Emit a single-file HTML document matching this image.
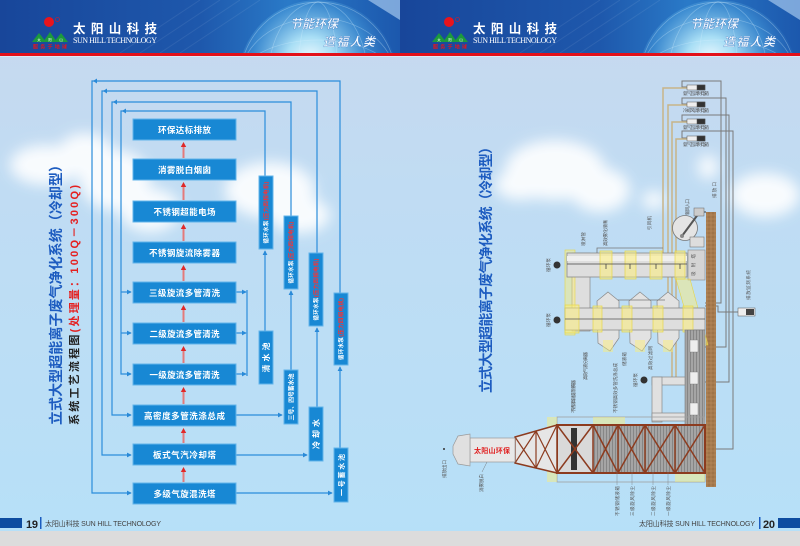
<!DOCTYPE html>
<html><head><meta charset="utf-8"><style>
html,body{margin:0;padding:0;width:800px;height:546px;overflow:hidden;background:#bfe0f5}
svg{display:block}
text{font-family:"Liberation Sans","Noto Sans CJK SC",sans-serif}
.lb{font-size:4.6px;fill:#555}
</style></head><body>
<svg width="800" height="546" viewBox="0 0 800 546" xmlns="http://www.w3.org/2000/svg">
<defs>
<linearGradient id="sky" x1="0" y1="0" x2="0" y2="1">
<stop offset="0" stop-color="#c8d8ee"/><stop offset="0.35" stop-color="#c0dcf3"/><stop offset="1" stop-color="#b6e0f8"/>
</linearGradient>
<linearGradient id="hd" x1="0" y1="0" x2="1" y2="0">
<stop offset="0" stop-color="#18469a"/><stop offset="0.5" stop-color="#1e58ac"/><stop offset="0.72" stop-color="#2a7ac8"/><stop offset="1" stop-color="#1c58ad"/>
</linearGradient>
<radialGradient id="gl" cx="0.45" cy="0.38" r="0.6">
<stop offset="0" stop-color="#f2fbff"/><stop offset="0.25" stop-color="#a8def5"/><stop offset="0.6" stop-color="#3f8fd3" stop-opacity="0.8"/><stop offset="1" stop-color="#1e5aae" stop-opacity="0"/>
</radialGradient>
<filter id="bl" x="-50%" y="-50%" width="200%" height="200%"><feGaussianBlur stdDeviation="7"/></filter>
<filter id="bl2" x="-50%" y="-50%" width="200%" height="200%"><feGaussianBlur stdDeviation="3"/></filter>
<marker id="ar" viewBox="0 0 6 6" refX="5" refY="3" markerWidth="4" markerHeight="4" orient="auto"><path d="M0,0 L6,3 L0,6z" fill="#2a8ad8"/></marker>
<pattern id="hatch" width="3" height="4" patternUnits="userSpaceOnUse"><rect width="3" height="4" fill="#a5a5a5"/><rect width="1" height="4" fill="#868686"/></pattern>
<pattern id="soil" width="4" height="4" patternUnits="userSpaceOnUse"><rect width="4" height="4" fill="#a87b4e"/><circle cx="1" cy="1" r="0.6" fill="#86603a"/><circle cx="3" cy="3" r="0.5" fill="#c49a6c"/></pattern>
<clipPath id="hc"><rect x="0" y="0" width="400" height="53"/></clipPath>
</defs>

<!-- background -->
<rect x="0" y="0" width="800" height="546" fill="url(#sky)"/>
<rect x="0" y="531" width="800" height="15" fill="#dcdcdc"/>

<!-- clouds -->
<g fill="#ffffff" filter="url(#bl)" opacity="0.9">
<ellipse cx="45" cy="165" rx="35" ry="20"/>
<ellipse cx="85" cy="155" rx="28" ry="22"/>
<ellipse cx="115" cy="180" rx="35" ry="30"/>
<ellipse cx="150" cy="210" rx="30" ry="22"/>
<ellipse cx="270" cy="190" rx="45" ry="28"/>
<ellipse cx="300" cy="215" rx="30" ry="18"/>
<ellipse cx="555" cy="170" rx="50" ry="30"/>
<ellipse cx="600" cy="190" rx="30" ry="22"/>
<ellipse cx="520" cy="185" rx="25" ry="15"/>
<ellipse cx="765" cy="195" rx="35" ry="22"/>
<ellipse cx="708" cy="167" rx="10" ry="12"/>
<ellipse cx="654" cy="200" rx="12" ry="9"/>
</g>

<!-- HEADER LEFT -->
<g>
<rect x="0" y="0" width="400" height="53" fill="url(#hd)"/>
<g clip-path="url(#hc)">
<g stroke="#ffffff" stroke-opacity="0.08" stroke-width="1">
<line x1="120" y1="53" x2="200" y2="0"/><line x1="140" y1="53" x2="220" y2="0"/><line x1="160" y1="53" x2="240" y2="0"/><line x1="180" y1="53" x2="260" y2="0"/>
</g>
<circle cx="318" cy="80" r="80" fill="url(#gl)"/>
<g fill="none" stroke="#d8f0ff" stroke-opacity="0.35" stroke-width="0.7">
<ellipse cx="318" cy="80" rx="78" ry="78"/><ellipse cx="318" cy="80" rx="50" ry="78"/><ellipse cx="318" cy="80" rx="20" ry="78"/><ellipse cx="318" cy="80" rx="78" ry="40"/><ellipse cx="318" cy="80" rx="78" ry="62"/>
</g>
<path d="M368,0 L400,0 L400,20 Q384,10 368,0z" fill="#a4c8ee" opacity="0.7"/>
</g>
<circle cx="49" cy="22" r="5" fill="#e8141c"/>
<circle cx="57.5" cy="19.5" r="2" fill="none" stroke="#e8141c" stroke-width="0.6"/>
<polygon points="32,42 39,33 46,42" fill="#1c9a3c"/><polygon points="43,42 50,32 57,42" fill="#1c9a3c"/><polygon points="54,42 61,33 68,42" fill="#1c9a3c"/>
<text x="39" y="41" font-size="3.5" fill="#fff" text-anchor="middle">太</text><text x="50" y="41" font-size="3.5" fill="#fff" text-anchor="middle">阳</text><text x="61" y="41" font-size="3.5" fill="#fff" text-anchor="middle">山</text>
<text x="50" y="48.5" font-size="5" fill="#e8141c" font-weight="bold" text-anchor="middle" textLength="34">服务于地球</text>
<text x="73" y="33" font-size="12.5" font-weight="bold" fill="#fff" textLength="84">太阳山科技</text>
<text x="73" y="43" font-size="8" fill="#fff" style="font-family:'Liberation Serif',serif" textLength="84">SUN HILL TECHNOLOGY</text>
<text x="290" y="28" font-size="12" font-style="italic" font-weight="bold" fill="#f4faff" stroke="#2a66b8" stroke-width="0.25" textLength="48">节能环保</text>
<text x="323" y="46" font-size="12" font-style="italic" font-weight="bold" fill="#f4faff" stroke="#2a66b8" stroke-width="0.25" textLength="52">造福人类</text>
</g>

<!-- HEADER RIGHT -->
<g transform="translate(400,0)">
<rect x="0" y="0" width="400" height="53" fill="url(#hd)"/>
<g clip-path="url(#hc)">
<g stroke="#ffffff" stroke-opacity="0.08" stroke-width="1">
<line x1="120" y1="53" x2="200" y2="0"/><line x1="140" y1="53" x2="220" y2="0"/><line x1="160" y1="53" x2="240" y2="0"/><line x1="180" y1="53" x2="260" y2="0"/>
</g>
<circle cx="318" cy="80" r="80" fill="url(#gl)"/>
<g fill="none" stroke="#d8f0ff" stroke-opacity="0.35" stroke-width="0.7">
<ellipse cx="318" cy="80" rx="78" ry="78"/><ellipse cx="318" cy="80" rx="50" ry="78"/><ellipse cx="318" cy="80" rx="20" ry="78"/><ellipse cx="318" cy="80" rx="78" ry="40"/><ellipse cx="318" cy="80" rx="78" ry="62"/>
</g>
<path d="M368,0 L400,0 L400,20 Q384,10 368,0z" fill="#a4c8ee" opacity="0.7"/>
</g>
<circle cx="49" cy="22" r="5" fill="#e8141c"/>
<circle cx="57.5" cy="19.5" r="2" fill="none" stroke="#e8141c" stroke-width="0.6"/>
<polygon points="32,42 39,33 46,42" fill="#1c9a3c"/><polygon points="43,42 50,32 57,42" fill="#1c9a3c"/><polygon points="54,42 61,33 68,42" fill="#1c9a3c"/>
<text x="39" y="41" font-size="3.5" fill="#fff" text-anchor="middle">太</text><text x="50" y="41" font-size="3.5" fill="#fff" text-anchor="middle">阳</text><text x="61" y="41" font-size="3.5" fill="#fff" text-anchor="middle">山</text>
<text x="50" y="48.5" font-size="5" fill="#e8141c" font-weight="bold" text-anchor="middle" textLength="34">服务于地球</text>
<text x="73" y="33" font-size="12.5" font-weight="bold" fill="#fff" textLength="84">太阳山科技</text>
<text x="73" y="43" font-size="8" fill="#fff" style="font-family:'Liberation Serif',serif" textLength="84">SUN HILL TECHNOLOGY</text>
<text x="290" y="28" font-size="12" font-style="italic" font-weight="bold" fill="#f4faff" stroke="#2a66b8" stroke-width="0.25" textLength="48">节能环保</text>
<text x="323" y="46" font-size="12" font-style="italic" font-weight="bold" fill="#f4faff" stroke="#2a66b8" stroke-width="0.25" textLength="52">造福人类</text>
</g>
<rect x="0" y="53" width="800" height="3" fill="#e3101a"/>
<rect x="0" y="56" width="800" height="1" fill="#e6eef8" opacity="0.7"/>

<!-- LEFT TITLES -->
<text transform="translate(61,425) rotate(-90)" font-size="14" font-weight="bold" fill="#1d5cc0" textLength="267">立式大型超能离子废气净化系统（冷却型）</text>
<text transform="translate(78,425) rotate(-90)" font-size="11" font-weight="bold" textLength="240"><tspan fill="#222">系统工艺流程图</tspan><tspan fill="#e52020">(处理量：100Q－300Q)</tspan></text>

<!-- FLOW LINES -->
<g fill="none" stroke="#2b8ddb" stroke-width="1.2">
<path d="M340,293 V81 H92 V493 H131" marker-end="url(#ar)"/>
<path d="M317,253 V91 H102 V455 H131" marker-end="url(#ar)"/>
<path d="M291,216 V102 H112 V415 H131" marker-end="url(#ar)"/>
<path d="M265,176 V111 H121 V374 H131" marker-end="url(#ar)"/>
<path d="M121,292 H131" marker-end="url(#ar)"/>
<path d="M121,333 H131" marker-end="url(#ar)"/>
<path d="M236,292 H246" marker-end="url(#ar)"/>
<path d="M236,333 H246" marker-end="url(#ar)"/>
<path d="M236,374 H246" marker-end="url(#ar)"/>
<path d="M247,290 V376"/>
<path d="M236,415 H282" marker-end="url(#ar)"/>
<path d="M236,455 H307" marker-end="url(#ar)"/>
<path d="M236,493 H332" marker-end="url(#ar)"/>
<path d="M265,331 V251" marker-end="url(#ar)"/>
<path d="M291,370 V291" marker-end="url(#ar)"/>
<path d="M317,407 V328" marker-end="url(#ar)"/>
<path d="M340,448 V367" marker-end="url(#ar)"/>
</g>
<g fill="#2a8ad8">
<polygon points="97,78.5 93,81 97,83.5"/><polygon points="107,88.5 103,91 107,93.5"/><polygon points="117,99.5 113,102 117,104.5"/><polygon points="126,108.5 122,111 126,113.5"/>
</g>

<!-- FLOW BOXES -->
<g fill="#1888d4" stroke="#62b4ea" stroke-width="1">
<rect x="133" y="119" width="103" height="21"/>
<rect x="133" y="159" width="103" height="21"/>
<rect x="133" y="201" width="103" height="21"/>
<rect x="133" y="242" width="103" height="21"/>
<rect x="133" y="282" width="103" height="21"/>
<rect x="133" y="323" width="103" height="21"/>
<rect x="133" y="364" width="103" height="21"/>
<rect x="133" y="405" width="103" height="21"/>
<rect x="133" y="444" width="103" height="21"/>
<rect x="133" y="483" width="103" height="21"/>
<rect x="259" y="176" width="14" height="73"/>
<rect x="284" y="216" width="14" height="73"/>
<rect x="309" y="253" width="14" height="73"/>
<rect x="334" y="293" width="14" height="72"/>
<rect x="259" y="331" width="14" height="53"/>
<rect x="284" y="370" width="14" height="54"/>
<rect x="309" y="407" width="14" height="54"/>
<rect x="334" y="448" width="14" height="54"/>
</g>
<g font-size="8.5" font-weight="bold" fill="#fff" text-anchor="middle">
<text x="184.5" y="133" textLength="53">环保达标排放</text>
<text x="184.5" y="173" textLength="53">消雾脱白烟囱</text>
<text x="184.5" y="215" textLength="62">不锈钢超能电场</text>
<text x="184.5" y="256" textLength="71">不锈钢旋流除雾器</text>
<text x="184.5" y="296" textLength="71">三级旋流多管清洗</text>
<text x="184.5" y="337" textLength="70">二级旋流多管清洗</text>
<text x="184.5" y="378" textLength="70">一级旋流多管清洗</text>
<text x="184.5" y="419" textLength="81">高密度多管洗涤总成</text>
<text x="184.5" y="458" textLength="63">板式气汽冷却塔</text>
<text x="184.5" y="497" textLength="62">多级气旋混洗塔</text>
</g>
<g font-size="5.5" font-weight="bold" text-anchor="middle">
<text transform="translate(268,212.5) rotate(-90)" textLength="62"><tspan fill="#fff">循环水泵</tspan><tspan fill="#ff3030">(压力四相电机)</tspan></text>
<text transform="translate(293,252.5) rotate(-90)" textLength="62"><tspan fill="#fff">循环水泵</tspan><tspan fill="#ff3030">(压力四相电机)</tspan></text>
<text transform="translate(318,289.5) rotate(-90)" textLength="62"><tspan fill="#fff">循环水泵</tspan><tspan fill="#ff3030">(压力四相电机)</tspan></text>
<text transform="translate(343,329) rotate(-90)" textLength="62"><tspan fill="#fff">循环水泵</tspan><tspan fill="#ff3030">(压力四相电机)</tspan></text>
</g>
<g font-weight="bold" fill="#fff" text-anchor="middle">
<text transform="translate(269,357.5) rotate(-90)" font-size="8" textLength="30">清水池</text>
<text transform="translate(293.5,397) rotate(-90)" font-size="6" textLength="47">三号、四号蓄水池</text>
<text transform="translate(319,434) rotate(-90)" font-size="8" textLength="30">冷却水</text>
<text transform="translate(344,475) rotate(-90)" font-size="7" textLength="42">一号蓄水池</text>
</g>

<!-- red arrows -->
<g>
<rect x="182.5" y="147" width="2" height="11" fill="#e47a7a"/><polygon points="183.5,142 180.8,147 186.2,147" fill="#e02828"/>
<rect x="182.5" y="187" width="2" height="13" fill="#e47a7a"/><polygon points="183.5,182 180.8,187 186.2,187" fill="#e02828"/>
<rect x="182.5" y="229" width="2" height="12" fill="#e47a7a"/><polygon points="183.5,224 180.8,229 186.2,229" fill="#e02828"/>
<rect x="182.5" y="270" width="2" height="11" fill="#e47a7a"/><polygon points="183.5,265 180.8,270 186.2,270" fill="#e02828"/>
<rect x="182.5" y="310" width="2" height="12" fill="#e47a7a"/><polygon points="183.5,305 180.8,310 186.2,310" fill="#e02828"/>
<rect x="182.5" y="351" width="2" height="12" fill="#e47a7a"/><polygon points="183.5,346 180.8,351 186.2,351" fill="#e02828"/>
<rect x="182.5" y="392" width="2" height="12" fill="#e47a7a"/><polygon points="183.5,387 180.8,392 186.2,392" fill="#e02828"/>
<rect x="182.5" y="433" width="2" height="10" fill="#e47a7a"/><polygon points="183.5,428 180.8,433 186.2,433" fill="#e02828"/>
<rect x="182.5" y="472" width="2" height="10" fill="#e47a7a"/><polygon points="183.5,467 180.8,472 186.2,472" fill="#e02828"/>
</g>

<!-- RIGHT TITLE -->
<text transform="translate(491,393) rotate(-90)" font-size="14" font-weight="bold" fill="#1d5cc0" textLength="253">立式大型超能离子废气净化系统（冷却型）</text>

<!-- RIGHT DIAGRAM -->
<!-- gray control lines -->
<g fill="none" stroke="#7a7a7a" stroke-width="1">
<path d="M687,87 H682 V81 H721 V303 H705"/>
<path d="M687,104 H682 V98 H726 V347 H705"/>
<path d="M687,121 H682 V115 H729 V382 H705"/>
<path d="M687,138 H682 V131 H733 V449 H705"/>
<path d="M705,306 H718 V312 H738"/>
</g>
<!-- tan pipes -->
<g fill="none" stroke="#c8b488" stroke-width="1.5">
<path d="M687,88 H663 V253"/>
<path d="M687,105 H668 V308"/>
<path d="M687,122 H672 V377"/>
<path d="M687,139 H676 V377"/>
</g>
<!-- control boxes -->
<g stroke="#555" stroke-width="0.5">
<rect x="687" y="85" width="18" height="5" fill="#eee"/><rect x="697" y="85" width="8" height="5" fill="#333"/>
<rect x="687" y="102" width="18" height="5" fill="#eee"/><rect x="697" y="102" width="8" height="5" fill="#333"/>
<rect x="687" y="119" width="18" height="5" fill="#eee"/><rect x="697" y="119" width="8" height="5" fill="#333"/>
<rect x="687" y="136" width="18" height="5" fill="#eee"/><rect x="697" y="136" width="8" height="5" fill="#333"/>
</g>
<g class="lb" text-anchor="middle">
<text x="696" y="95" class="lb" textLength="26">氨气瓦调制电箱</text>
<text x="696" y="112" class="lb" textLength="26">冷却风调制电箱</text>
<text x="696" y="129" class="lb" textLength="26">氨气瓦调制电箱</text>
<text x="696" y="146" class="lb" textLength="26">氨气瓦调制电箱</text>
</g>
<rect x="738" y="308" width="17" height="8" fill="#eee" stroke="#555" stroke-width="0.5"/><rect x="746" y="309" width="8" height="6" fill="#444"/>

<!-- brown wall -->
<rect x="706" y="212" width="10" height="275" fill="url(#soil)"/>
<line x1="699" y1="212" x2="706" y2="212" stroke="#111" stroke-width="0.8"/>

<!-- fan -->
<circle cx="685" cy="228" r="12.5" fill="#e4e4e4" stroke="#777" stroke-width="0.8"/>
<line x1="682" y1="236" x2="699" y2="213" stroke="#555" stroke-width="2"/>
<circle cx="682" cy="236" r="2" fill="#888"/>
<rect x="694" y="208" width="10" height="8" fill="#ccc" stroke="#666" stroke-width="0.5"/>
<rect x="690" y="237" width="14" height="10" fill="#ddd" stroke="#777" stroke-width="0.6"/>
<rect x="688" y="250" width="17" height="30" fill="#d4d4d4" stroke="#888" stroke-width="0.6"/>

<!-- yellow diagonal -->
<polygon points="676,279 690,279 708,345 695,345" fill="#fff070" fill-opacity="0.45" stroke="#e6d64a" stroke-width="0.6"/>

<!-- left vertical duct -->
<rect x="572" y="253" width="18" height="78" fill="#dedede" stroke="#888" stroke-width="0.7"/>
<rect x="565" y="250" width="10" height="85" fill="#fff070" fill-opacity="0.45" stroke="#e6d64a" stroke-width="0.6"/>
<!-- upper duct -->
<rect x="567" y="253" width="120" height="24" fill="#dedede" stroke="#8a8a8a" stroke-width="0.8"/>
<rect x="567" y="256" width="120" height="5" fill="#efefef"/>
<path d="M597,253 V248 H663" fill="none" stroke="#777" stroke-width="0.8"/>
<g fill="#fff070" fill-opacity="0.5" stroke="#e6d64a" stroke-width="0.7">
<rect x="600" y="251" width="12" height="28"/><rect x="625" y="251" width="11" height="28"/><rect x="650" y="251" width="12" height="28"/><rect x="675" y="251" width="10" height="28"/>
</g>
<g stroke="#444" stroke-width="0.8"><line x1="567" y1="264" x2="687" y2="264"/><line x1="606" y1="264" x2="606" y2="269"/><line x1="630" y1="264" x2="630" y2="269"/><line x1="656" y1="264" x2="656" y2="269"/><line x1="680" y1="264" x2="680" y2="269"/></g>

<!-- hoppers -->
<g fill="#e2e2e2" stroke="#888" stroke-width="0.7">
<polygon points="608,292 619,301 619,338 610,351 598,343 597,301"/>
<polygon points="640,292 651,301 651,338 642,351 630,343 629,301"/>
<polygon points="668,292 679,301 679,338 670,351 658,343 657,301"/>
</g>
<g fill="#fff070" fill-opacity="0.45"><rect x="603" y="340" width="10" height="12"/><rect x="635" y="340" width="10" height="12"/><rect x="663" y="340" width="10" height="12"/></g>
<line x1="618" y1="300" x2="665" y2="300" stroke="#777" stroke-width="0.8"/>
<!-- middle duct -->
<rect x="565" y="308" width="140" height="22" fill="#dedede" stroke="#888" stroke-width="0.8"/>
<g fill="#fff070" fill-opacity="0.5" stroke="#e6d64a" stroke-width="0.7">
<rect x="565" y="305" width="14" height="28"/><rect x="593" y="306" width="9" height="26"/><rect x="622" y="306" width="10" height="26"/><rect x="653" y="306" width="10" height="26"/><rect x="683" y="306" width="10" height="26"/>
</g>
<line x1="565" y1="319" x2="705" y2="319" stroke="#555" stroke-width="0.7"/>

<!-- gray column -->
<rect x="685" y="330" width="20" height="95" fill="url(#hatch)" stroke="#777" stroke-width="0.6"/>
<g fill="#eee" stroke="#777" stroke-width="0.4"><rect x="690" y="340" width="8" height="12"/><rect x="690" y="372" width="8" height="12"/><rect x="690" y="403" width="8" height="12"/></g>

<!-- loop duct -->
<g fill="#e0e0e0" stroke="#888" stroke-width="0.7">
<rect x="652" y="377" width="33" height="8"/><rect x="652" y="377" width="10" height="45"/><rect x="652" y="413" width="33" height="8"/>
</g>

<!-- pumps -->
<g fill="#333"><circle cx="557" cy="265" r="3.5"/><circle cx="557" cy="320" r="3.5"/><circle cx="644" cy="380" r="3.5"/></g>

<!-- main tower -->
<rect x="557" y="417" width="148" height="65" fill="none" stroke="#a0a0a0" stroke-width="0.8"/>
<rect x="547" y="417" width="10" height="65" fill="#fff070" fill-opacity="0.45"/>
<rect x="593" y="417" width="32" height="8" fill="#fff070" fill-opacity="0.45"/>
<rect x="675" y="474" width="30" height="8" fill="#fff070" fill-opacity="0.45"/>
<rect x="557" y="425" width="148" height="48" fill="url(#hatch)"/>
<rect x="557" y="425" width="36" height="48" fill="#d9d9d9"/>
<rect x="571" y="428" width="6" height="42" fill="#333"/>
<g stroke="#8c3b1f" fill="none">
<rect x="557" y="425" width="148" height="48" stroke-width="2"/>
<g stroke-width="1.5">
<line x1="593" y1="425" x2="593" y2="473"/><line x1="618" y1="425" x2="618" y2="473"/><line x1="645" y1="425" x2="645" y2="473"/><line x1="675" y1="425" x2="675" y2="473"/>
<line x1="557" y1="425" x2="593" y2="473"/><line x1="557" y1="473" x2="593" y2="425"/>
<line x1="593" y1="425" x2="618" y2="473"/><line x1="593" y1="473" x2="618" y2="425"/>
<line x1="618" y1="425" x2="645" y2="473"/><line x1="618" y1="473" x2="645" y2="425"/>
<line x1="645" y1="425" x2="675" y2="473"/><line x1="645" y1="473" x2="675" y2="425"/>
<line x1="675" y1="425" x2="705" y2="473"/><line x1="675" y1="473" x2="705" y2="425"/>
</g>
</g>
<!-- transition -->
<polygon points="515,437 557,425 557,473 515,463" fill="#e6e6e6" stroke="#8c3b1f" stroke-width="1.5"/>
<g stroke="#8c3b1f" stroke-width="1.2">
<line x1="536" y1="431" x2="536" y2="468"/>
<line x1="515" y1="437" x2="536" y2="468"/><line x1="515" y1="463" x2="536" y2="431"/>
<line x1="536" y1="431" x2="557" y2="473"/><line x1="536" y1="468" x2="557" y2="425"/>
</g>
<!-- stack -->
<rect x="470" y="438" width="45" height="24" fill="#e8e8e8" stroke="#999" stroke-width="0.7"/>
<polygon points="453,446 458,436 470,434 470,466 458,464 453,454" fill="#e0e0e0" stroke="#999" stroke-width="0.7"/>
<text x="492" y="453" font-size="7" font-weight="bold" fill="#e02020" text-anchor="middle" textLength="36">太阳山环保</text>
<circle cx="444" cy="449" r="1" fill="#333"/>
<line x1="487" y1="462" x2="482" y2="472" stroke="#666" stroke-width="0.4"/>

<!-- diagram labels -->
<g class="lb">
<text class="lb" transform="translate(446,478) rotate(-90)" textLength="18">排放出口</text>
<text class="lb" transform="translate(483,492) rotate(-90)" textLength="18">消雾脱白</text>
<text class="lb" transform="translate(585,246) rotate(-90)" textLength="14">喷淋管</text>
<text class="lb" transform="translate(607,246) rotate(-90)" textLength="26">高效雾化喷嘴</text>
<text class="lb" transform="translate(651,230) rotate(-90)" textLength="14">引风机</text>
<text class="lb" transform="translate(689,215) rotate(-90)" textLength="16">新风入口</text>
<text class="lb" transform="translate(716,198) rotate(-90)" textLength="16">排放口</text>
<text class="lb" transform="translate(550,272) rotate(-90)" textLength="14">循环泵</text>
<text class="lb" transform="translate(550,327) rotate(-90)" textLength="14">循环泵</text>
<text class="lb" transform="translate(637,387) rotate(-90)" textLength="14">循环泵</text>
<text class="lb" transform="translate(587,380) rotate(-90)" textLength="28">高效气液分离器</text>
<text class="lb" transform="translate(626,366) rotate(-90)" textLength="14">储液箱</text>
<text class="lb" transform="translate(652,370) rotate(-90)" textLength="24">高效过滤网</text>
<text class="lb" transform="translate(617,413) rotate(-90)" textLength="50">不锈钢高效多管洗涤总成</text>
<text class="lb" transform="translate(575,413) rotate(-90)" textLength="33">不锈钢高效旋流除雾器</text>
<text class="lb" transform="translate(750,300) rotate(-90)" textLength="30">排放监测系统</text>
<text class="lb" transform="translate(695,276) rotate(-90)" textLength="22">吸附塔</text>
<text class="lb" transform="translate(619,516) rotate(-90)" textLength="30">不锈钢储液箱</text>
<text class="lb" transform="translate(634,516) rotate(-90)" textLength="30">三级旋风除尘</text>
<text class="lb" transform="translate(655,516) rotate(-90)" textLength="30">二级旋风除尘</text>
<text class="lb" transform="translate(670,516) rotate(-90)" textLength="30">一级旋风除尘</text>
</g>
<g stroke="#777" stroke-width="0.4">
<line x1="617" y1="470" x2="617" y2="485"/><line x1="632" y1="470" x2="632" y2="485"/><line x1="653" y1="470" x2="653" y2="485"/><line x1="668" y1="470" x2="668" y2="485"/>
</g>

<!-- FOOTER -->
<rect x="0" y="518" width="22" height="10" fill="#0d4ca0"/>
<text x="26" y="528" font-size="11" font-weight="bold" fill="#222" textLength="12">19</text>
<rect x="40" y="517" width="1.5" height="12" fill="#1a5cc0"/>
<text x="45" y="526" font-size="7" fill="#444" textLength="116">太阳山科技 SUN HILL TECHNOLOGY</text>
<text x="639" y="526" font-size="7" fill="#444" textLength="116">太阳山科技 SUN HILL TECHNOLOGY</text>
<rect x="759" y="517" width="1.5" height="12" fill="#1a5cc0"/>
<text x="763" y="528" font-size="11" font-weight="bold" fill="#222" textLength="12">20</text>
<rect x="778" y="518" width="22" height="10" fill="#0d4ca0"/>
</svg>
</body></html>
